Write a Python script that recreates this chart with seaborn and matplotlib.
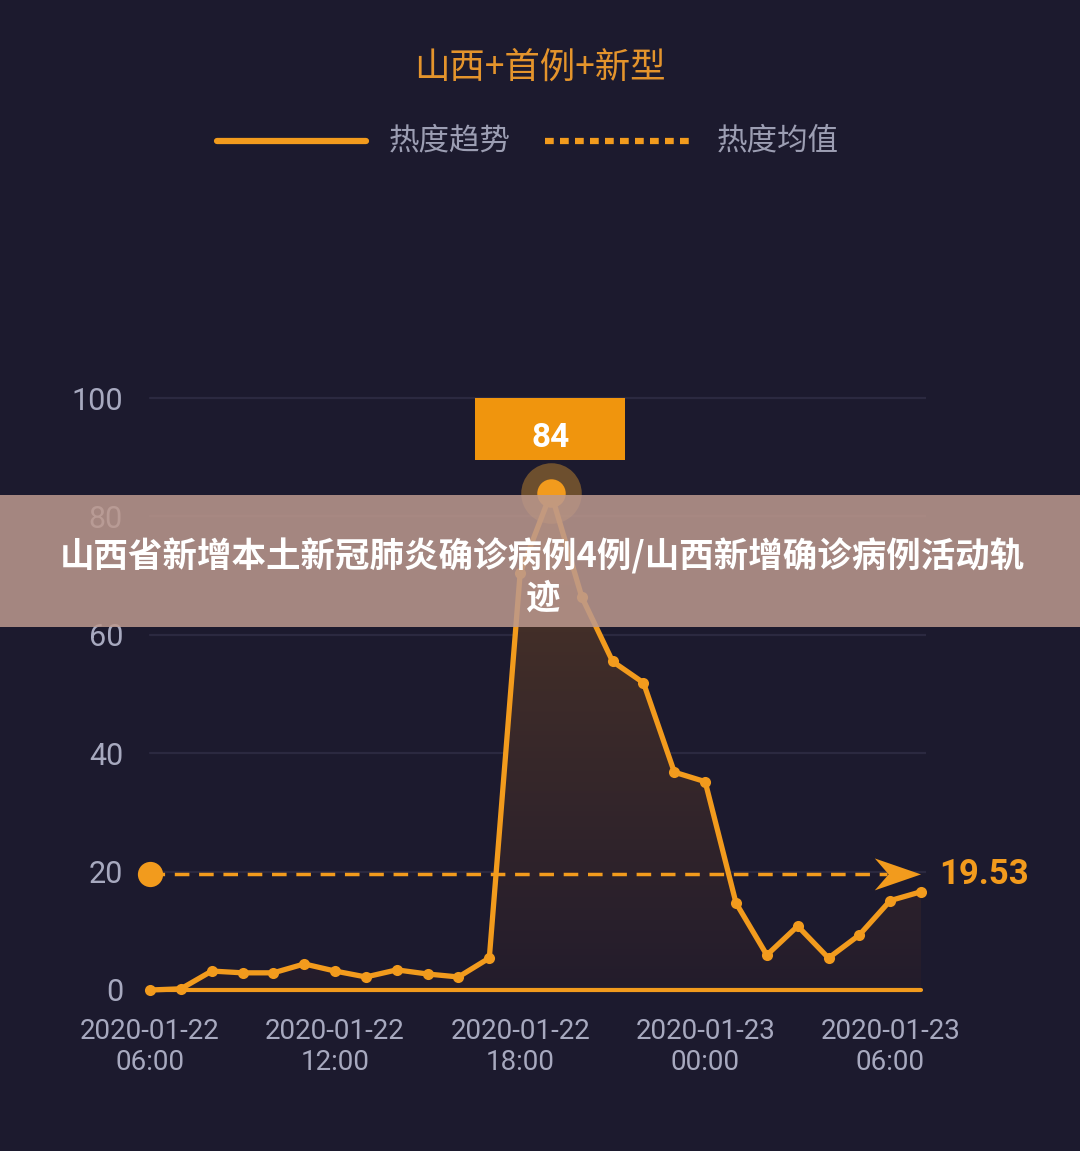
import numpy as np
import pandas as pd
import seaborn as sns
import matplotlib.pyplot as plt
from matplotlib.patches import Rectangle, Polygon
from matplotlib.colors import LinearSegmentedColormap

# data: heat index, one point per hour from 2020-01-22 06:00
hours = list(range(26))
heat = [0, 0.2, 3.2, 2.9, 2.9, 4.4, 3.2, 2.2, 3.4, 2.7, 2.2, 5.4,
        70.4, 84, 66.4, 55.5, 51.9, 36.8, 35.2, 14.7, 5.9, 10.8, 5.4, 9.3, 15.1, 16.6]
mean_value = 19.53
peak_value = 84
tick_hours = [0, 6, 12, 18, 24]
tick_labels = ["2020-01-22\n06:00", "2020-01-22\n12:00", "2020-01-22\n18:00",
               "2020-01-23\n00:00", "2020-01-23\n06:00"]
y_ticks = [0, 20, 40, 60, 80, 100]

title = "山西+首例+新型"
legend_labels = ["热度趋势", "热度均值"]
banner = "山西省新增本土新冠肺炎确诊病例4例/山西新增确诊病例活动轨\n迹"

df = pd.DataFrame({"hour": hours, "heat": heat})

bg = "#1c1a2e"
orange = "#f29b1d"
grey = "#a7a9bf"
cjk = ["Noto Sans CJK SC", "DejaVu Sans"]
num_font = ["Roboto", "DejaVu Sans"]

sns.set_theme(style="dark")
plt.rcParams["font.family"] = cjk

fig = plt.figure(figsize=(10.8, 11.51), dpi=100, facecolor=bg)
ax = fig.add_axes([0.1204, 0.1296, 0.7367, 0.5348])
ax.set_facecolor(bg)

# faint grid lines
for yv in y_ticks[1:]:
    ax.plot([0, 25.2], [yv, yv], color="#2b2940", lw=1.6, zorder=1)

# gradient fill under the curve
poly = ax.fill_between(df["hour"], df["heat"], 0, color="none", lw=0)
cmap = LinearSegmentedColormap.from_list("fill", ["#231c2c", "#4e3527"])
grad = np.linspace(0, 1, 256).reshape(-1, 1)
img = ax.imshow(grad, cmap=cmap, aspect="auto", origin="lower",
                extent=[0, 25, 0, peak_value], zorder=2)
img.set_clip_path(poly.get_paths()[0], transform=ax.transData)
ax.set_xlim(-0.65, 25.15)
ax.set_ylim(-2, 102)

# baseline
ax.plot([0, 25], [0, 0], color=orange, lw=3, zorder=3)

# trend line
sns.lineplot(data=df, x="hour", y="heat", ax=ax, color=orange, lw=3.8,
             marker="o", markersize=8, markeredgewidth=0, zorder=5)

# mean line with arrow
ax.plot([0, 23.9], [mean_value, mean_value], color=orange, lw=2.5,
        ls=(0, (4.2, 2.8)), zorder=4)
ax.scatter([0], [mean_value], s=330, color=orange, lw=0, zorder=6, clip_on=False)
ax.add_patch(Polygon([(25.0, mean_value), (23.5, mean_value + 2.7),
                      (23.95, mean_value), (23.5, mean_value - 2.7)],
                     closed=True, facecolor=orange, edgecolor="none",
                     zorder=6, clip_on=False))
ax.text(25.6, mean_value, f"{mean_value:.2f}", color=orange, fontsize=25,
        fontweight="bold", family=num_font, va="center",
        ha="left", clip_on=False)

# peak highlight
peak_x = hours[heat.index(peak_value)]
ax.scatter([peak_x], [peak_value], s=1900, color="#e8a030", alpha=0.4, lw=0, zorder=6)
ax.scatter([peak_x], [peak_value], s=420, color=orange, lw=0, zorder=7)
ax.add_patch(Rectangle((peak_x - 2.45, peak_value + 5.5), 4.85, 10.5,
                       facecolor="#f0950d", edgecolor="none", zorder=8))
ax.text(peak_x, peak_value + 9.3, str(peak_value), color="white", fontsize=24,
        fontweight="bold", family=num_font,
        ha="center", va="center", zorder=9)

# axes styling
ax.set_xticks(tick_hours)
ax.set_xticklabels(tick_labels, color=grey, fontsize=20,
                   family=num_font, linespacing=1.15)
ax.set_yticks(y_ticks)
ax.set_yticklabels([str(v) for v in y_ticks], color=grey, fontsize=22,
                   family=num_font)
ax.tick_params(axis="both", length=0)
ax.tick_params(axis="x", pad=12)
ax.tick_params(axis="y", pad=5)
ax.grid(False)
ax.set_xlabel("")
ax.set_ylabel("")
for s in ax.spines.values():
    s.set_visible(False)

# title and legend
fig.text(0.5, 0.941, title, color="#e4942c", fontsize=25.5, ha="center", va="center")
fig.lines.append(plt.Line2D([217 / 1080, 366 / 1080], [1 - 141 / 1151] * 2,
                            transform=fig.transFigure, color=orange, lw=4.5))
fig.text(389 / 1080, 1 - 141 / 1151, legend_labels[0], color="#9c9eb3",
         fontsize=22, ha="left", va="center")
fig.lines.append(plt.Line2D([545 / 1080, 693 / 1080], [1 - 141 / 1151] * 2,
                            transform=fig.transFigure, color=orange, lw=4.5,
                            ls=(0, (1.4, 1.0))))
fig.text(717 / 1080, 1 - 141 / 1151, legend_labels[1], color="#9c9eb3",
         fontsize=22, ha="left", va="center")

# overlay banner
fig.patches.append(Rectangle((0, 1 - 627 / 1151), 1, 132 / 1151,
                             transform=fig.transFigure, facecolor="#bc998e",
                             alpha=0.86, edgecolor="none", zorder=20))
fig.text(0.502, 1 - 577 / 1151, banner, color="white", fontsize=24.8,
         fontweight=900, ha="center", va="center", linespacing=1.22,
         zorder=21)

fig.savefig("out.png", dpi=100, facecolor=bg)
